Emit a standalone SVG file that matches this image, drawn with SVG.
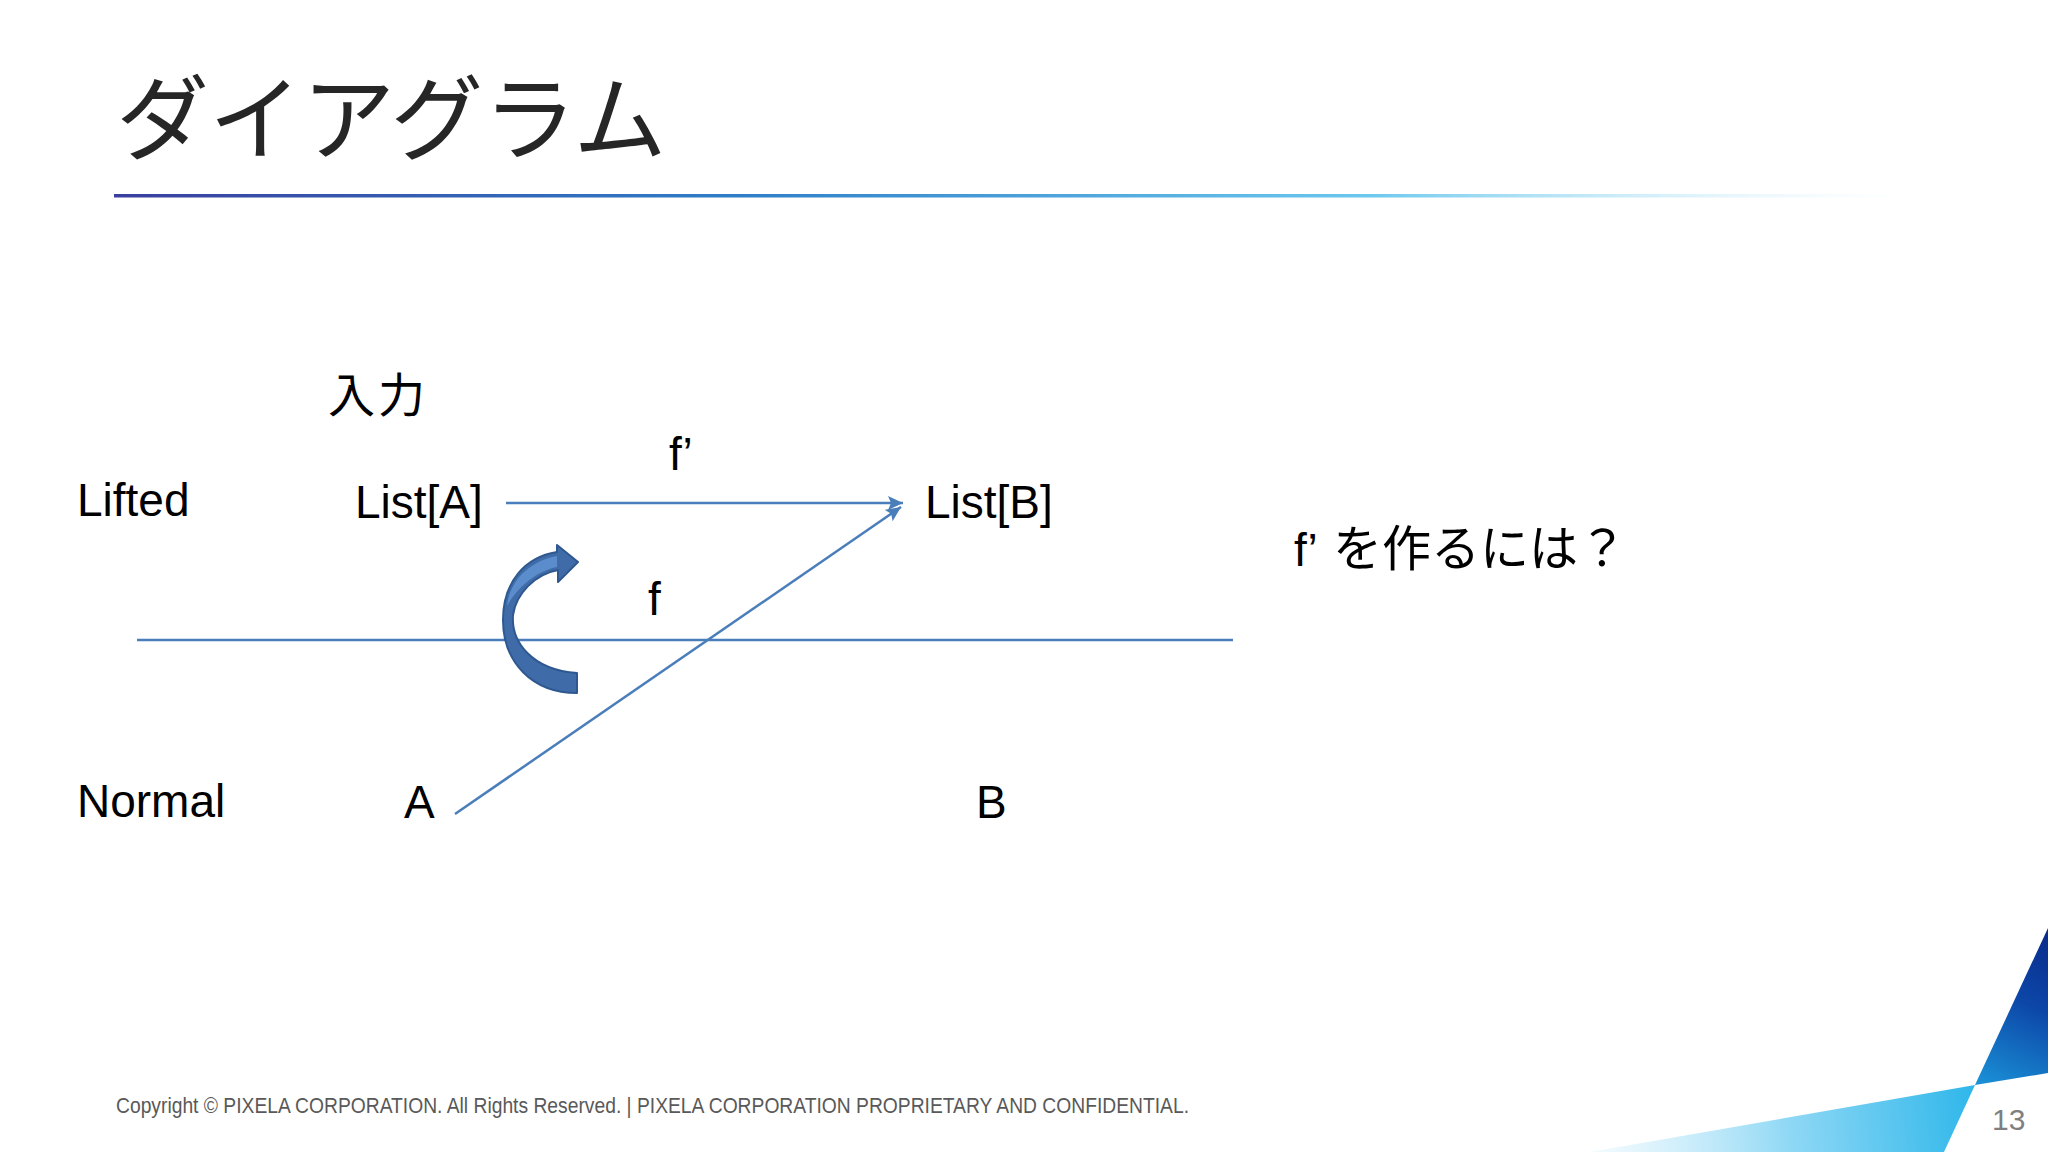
<svg xmlns="http://www.w3.org/2000/svg" width="2048" height="1152" viewBox="0 0 2048 1152">
  <defs>
    <style>
      .lbl { font-family: "Liberation Sans", Arial, sans-serif; font-size: 46px; fill: #000000; }
      .jp { font-family: "Noto Sans CJK JP", "Noto Sans CJK SC", sans-serif; fill: #000000; }
      .conn { stroke: #4a7ebb; stroke-width: 2.5; fill: none; }
    </style>
    <linearGradient id="titleLine" x1="114" y1="0" x2="1907" y2="0" gradientUnits="userSpaceOnUse">
      <stop offset="0" stop-color="#3a3f9e"/>
      <stop offset="0.35" stop-color="#2f7fc8"/>
      <stop offset="0.7" stop-color="#6cc8ee"/>
      <stop offset="1" stop-color="#d8f1fb" stop-opacity="0"/>
    </linearGradient>
    <linearGradient id="darkTri" x1="1975" y1="1085" x2="2048" y2="928" gradientUnits="userSpaceOnUse">
      <stop offset="0" stop-color="#1b93d8"/>
      <stop offset="0.55" stop-color="#0c47a8"/>
      <stop offset="1" stop-color="#0a2a8a"/>
    </linearGradient>
    <linearGradient id="lightTri" x1="1600" y1="1140" x2="1975" y2="1100" gradientUnits="userSpaceOnUse">
      <stop offset="0" stop-color="#e6f6fd" stop-opacity="0.6"/>
      <stop offset="0.5" stop-color="#8fd8f5"/>
      <stop offset="1" stop-color="#2fb7ea"/>
    </linearGradient>
    <marker id="arrow" markerUnits="userSpaceOnUse" markerWidth="16" markerHeight="16" refX="15" refY="8" orient="auto">
      <path d="M0,1 L15,8 L0,15 L3,8 Z" fill="#4a7ebb"/>
    </marker>
  </defs>

  <rect x="0" y="0" width="2048" height="1152" fill="#ffffff"/>

  <!-- title -->
  <g id="title">
    <text x="116" y="153" font-family="'Noto Sans CJK JP', 'Noto Sans CJK SC', sans-serif" font-size="93" fill="#262626">ダイアグラム</text>
    <rect x="114" y="194" width="1793" height="3.5" fill="url(#titleLine)"/>
  </g>

  <!-- corner decoration -->
  <g id="corner">
    <polygon points="2048,928 1975,1085 2048,1073" fill="url(#darkTri)"/>
    <polygon points="1975,1085 1590,1152 1944,1152" fill="url(#lightTri)"/>
  </g>

  <!-- connectors -->
  <g id="connectors">
    <line id="divider" x1="137" y1="640" x2="1233" y2="640" class="conn" stroke-width="2"/>
    <line id="f-prime-arrow" x1="506" y1="503" x2="903" y2="503" class="conn" marker-end="url(#arrow)"/>
    <line id="f-arrow" x1="455" y1="814" x2="901" y2="507" class="conn" marker-end="url(#arrow)"/>
  </g>

  <!-- curved lift arrow -->
  <g id="lift-arrow">
    <path d="M577,693 C532,693 503,662 503,620 C503,582 525,557 557,552 L557,545 L578,562 L558,582 L558,570 C535,574 516,594 513,615 C511,642 532,670 577,673 Z" fill="#3f6ca8" stroke="#2f5890" stroke-width="2" stroke-linejoin="round"/>
    <path d="M507,606 C510,580 530,561 557,556 L557,567 C536,571 517,588 507,606 Z" fill="#5b8dcc"/>
  </g>

  <!-- labels / nodes -->
  <g id="node-input"><text x="328" y="412" class="jp" font-size="47" letter-spacing="3">入力</text></g>
  <g id="node-lifted"><text x="77" y="516" class="lbl">Lifted</text></g>
  <g id="node-normal"><text x="77" y="817" class="lbl">Normal</text></g>
  <g id="node-listA"><text x="355" y="518" class="lbl">List[A]</text></g>
  <g id="node-listB"><text x="925" y="518" class="lbl">List[B]</text></g>
  <g id="node-A"><text x="404" y="818" class="lbl">A</text></g>
  <g id="node-B"><text x="976" y="818" class="lbl">B</text></g>
  <g id="label-fprime"><text x="669" y="470" class="lbl">f’</text></g>
  <g id="label-f"><text x="648" y="615" class="lbl">f</text></g>
  <g id="question">
    <text y="566"><tspan x="1294" class="lbl">f’</tspan><tspan x="1333" class="jp" font-size="49">を作るには？</tspan></text>
  </g>

  <!-- footer -->
  <g id="footer">
    <text x="116" y="1113" font-family="'Liberation Sans', Arial, sans-serif" font-size="22" fill="#595959" textLength="1073" lengthAdjust="spacingAndGlyphs">Copyright © PIXELA CORPORATION. All Rights Reserved. | PIXELA CORPORATION PROPRIETARY AND CONFIDENTIAL.</text>
    <text x="1992" y="1130" font-family="'Liberation Sans', Arial, sans-serif" font-size="30" fill="#7f7f7f">13</text>
  </g>
</svg>
